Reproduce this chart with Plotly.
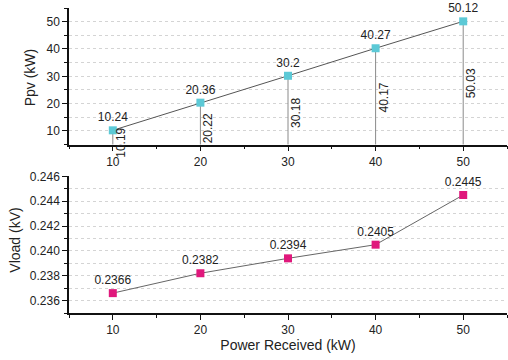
import plotly.graph_objects as go
from plotly.subplots import make_subplots

power = [10, 20, 30, 40, 50]
ppv = [10.24, 20.36, 30.2, 40.27, 50.12]
ppv_drop = [10.19, 20.22, 30.18, 40.17, 50.03]
vload = [0.2366, 0.2382, 0.2394, 0.2405, 0.2445]
ppv_labels = ["10.24", "20.36", "30.2", "40.27", "50.12"]
drop_labels = ["10.19", "20.22", "30.18", "40.17", "50.03"]
vload_labels = ["0.2366", "0.2382", "0.2394", "0.2405", "0.2445"]

FONT = "Liberation Sans, Arial, sans-serif"
TOP_RANGE = [5, 55]
BOT_RANGE = [0.235, 0.246]
W, H = 508, 360
ML, MR, MT, MB = 69, 1, 5, 47
PW, PH = W - ML - MR, H - MT - MB


def px_to_paper(px, py):
    return (px - ML) / PW, (H - MB - py) / PH


fig = make_subplots(rows=2, cols=1, vertical_spacing=0.0)

# drop lines in top panel
dx, dy = [], []
for x, v in zip(power, ppv):
    dx += [x, x, None]
    dy += [TOP_RANGE[0], v, None]
fig.add_trace(go.Scatter(x=dx, y=dy, mode="lines", line=dict(color="#8a8a8a", width=1),
                         hoverinfo="skip", showlegend=False), row=1, col=1)

fig.add_trace(go.Scatter(x=power, y=ppv, mode="lines+markers+text", text=ppv_labels,
                         textposition="top center", cliponaxis=False,
                         textfont=dict(family=FONT, size=12, color="#222"),
                         line=dict(color="#555", width=1),
                         marker=dict(symbol="square", size=8, color="#5cc9d6"),
                         showlegend=False), row=1, col=1)

fig.add_trace(go.Scatter(x=power, y=vload, mode="lines+markers+text", text=vload_labels,
                         textposition="top center", cliponaxis=False,
                         textfont=dict(family=FONT, size=12, color="#222"),
                         line=dict(color="#666", width=1),
                         marker=dict(symbol="square", size=8, color="#e0187c"),
                         showlegend=False), row=2, col=1)

for x, v, lab in zip(power, ppv_drop, drop_labels):
    fig.add_annotation(x=x, y=0.55 * v, text=lab, textangle=-90, showarrow=False,
                       xshift=8, font=dict(family=FONT, size=12, color="#222"),
                       xref="x", yref="y")

# y-axis titles as annotations for exact placement
ax, ay = px_to_paper(30, 75)
fig.add_annotation(x=ax, y=ay, xref="paper", yref="paper",
                   xanchor="center", yanchor="middle", text="Ppv (kW)", textangle=-90,
                   showarrow=False, font=dict(family=FONT, size=14, color="#222"))
bx, by = px_to_paper(15, 240)
fig.add_annotation(x=bx, y=by, xref="paper", yref="paper",
                   xanchor="center", yanchor="middle", text="Vload (kV)", textangle=-90,
                   showarrow=False, font=dict(family=FONT, size=14, color="#222"))

axis_common = dict(showline=True, linecolor="#111", linewidth=1.5, ticks="outside",
                   ticklen=5, tickwidth=1.2, tickcolor="#111", showgrid=False,
                   zeroline=False, tickfont=dict(family=FONT, size=12, color="#222"))

fig.update_xaxes(range=[5, 55], tickvals=power,
                 minor=dict(ticks="outside", ticklen=3, tickcolor="#111", dtick=5, tick0=5,
                            showgrid=False),
                 **axis_common)
fig.update_xaxes(title=dict(text="Power Received (kW)", font=dict(family=FONT, size=14, color="#222"),
                            standoff=4), row=2, col=1)

fig.update_yaxes(range=TOP_RANGE, tickvals=[10, 20, 30, 40, 50],
                 minor=dict(ticks="outside", ticklen=3, tickcolor="#111", dtick=5, tick0=5,
                            showgrid=True, gridcolor="#d4d4d4", griddash="dot", gridwidth=1),
                 row=1, col=1, **axis_common)
fig.update_yaxes(range=BOT_RANGE, tickvals=[0.236, 0.238, 0.240, 0.242, 0.244, 0.246],
                 tickformat=".3f",
                 minor=dict(ticks="outside", ticklen=3, tickcolor="#111", dtick=0.001, tick0=0.235,
                            showgrid=True, gridcolor="#d4d4d4", griddash="dot", gridwidth=1),
                 row=2, col=1, **axis_common)

fig.update_layout(
    width=W, height=H,
    margin=dict(l=ML, r=MR, t=MT, b=MB),
    paper_bgcolor="white", plot_bgcolor="white",
    showlegend=False,
)
fig.layout.yaxis.domain = [0.552, 1.0]
fig.layout.yaxis2.domain = [0.0, 0.448]

fig.write_html("out.html")
